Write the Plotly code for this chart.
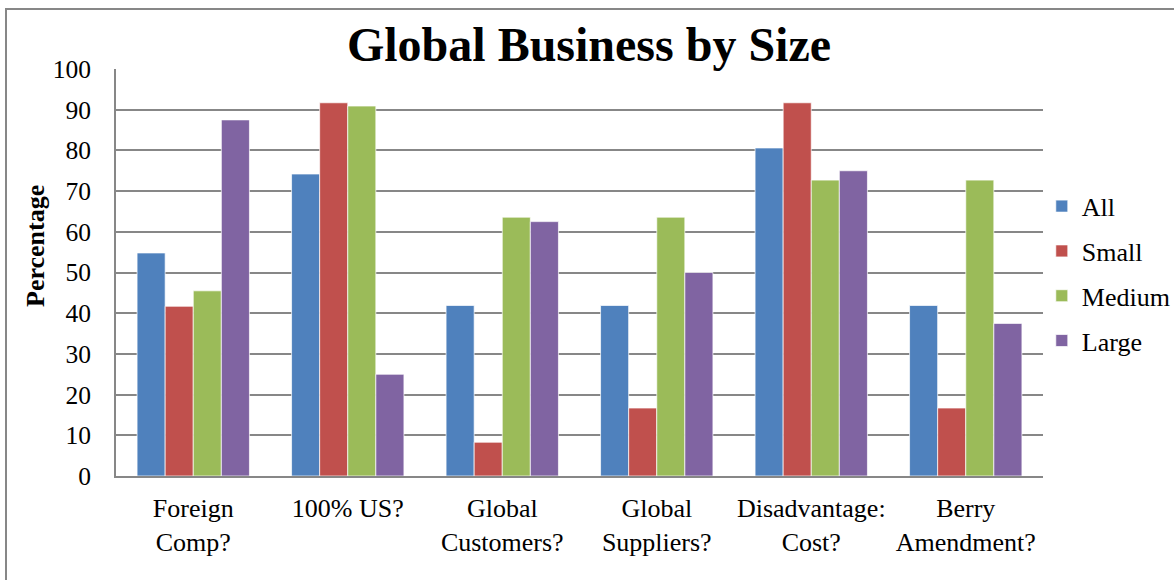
import plotly.graph_objects as go

# Survey questions on the category axis (two-line labels)
categories = [
    "Foreign<br>Comp?",
    "100% US?",
    "Global<br>Customers?",
    "Global<br>Suppliers?",
    "Disadvantage:<br>Cost?",
    "Berry<br>Amendment?",
]

# Percentage answering yes, by company size
all_sizes = [54.8, 74.2, 41.9, 41.9, 80.6, 41.9]
small = [41.7, 91.7, 8.3, 16.7, 91.7, 16.7]
medium = [45.5, 90.9, 63.6, 63.6, 72.7, 72.7]
large = [87.5, 25.0, 62.5, 50.0, 75.0, 37.5]

series_names = ["All", "Small", "Medium", "Large"]
series_values = [all_sizes, small, medium, large]
series_colors = ["#4F81BD", "#C0504D", "#9BBB59", "#8064A2"]

y_ticks = list(range(0, 101, 10))

FONT = "Liberation Serif, Times New Roman, serif"
GRID = "#878787"

fig = go.Figure()
for name, vals, color in zip(series_names, series_values, series_colors):
    fig.add_trace(go.Bar(
        name=name,
        x=categories,
        y=vals,
        legendgroup=name,
        marker=dict(color=color, line=dict(color="rgba(255,255,255,0.7)", width=1)),
    ))

fig.update_layout(
    width=1174,
    height=580,
    paper_bgcolor="white",
    plot_bgcolor="white",
    barmode="group",
    bargap=0.2727,
    bargroupgap=0,
    margin=dict(l=116, r=131, t=69, b=104, autoexpand=False),
    font=dict(family=FONT, size=26, color="black"),
    title=dict(
        text="<b>Global Business by Size</b>",
        font=dict(family=FONT, size=48, color="black"),
        x=589 / 1174,
        xanchor="center",
        y=1 - 44 / 580,
        yanchor="middle",
    ),
    legend=dict(
        x=0.9987,
        xanchor="left",
        y=0.497,
        yanchor="middle",
        font=dict(family=FONT, size=26, color="black"),
        tracegroupgap=8,
        bgcolor="rgba(0,0,0,0)",
        itemwidth=30,
    ),
    showlegend=True,
)

fig.update_xaxes(
    showline=True,
    linecolor=GRID,
    linewidth=2,
    showgrid=False,
    ticks="",
    tickfont=dict(family=FONT, size=26, color="black"),
    ticklabelstandoff=8,
)

fig.update_yaxes(
    range=[0, 100],
    tickvals=y_ticks,
    showline=True,
    linecolor=GRID,
    linewidth=2,
    showgrid=True,
    gridcolor=GRID,
    gridwidth=2,
    zeroline=False,
    ticks="",
    tickfont=dict(family=FONT, size=25.5, color="black"),
    ticklabelstandoff=18,
)

# Rotated y-axis caption, placed beside the upper half of the tick labels
fig.add_annotation(
    text="<b>Percentage</b>",
    xref="paper", yref="paper",
    x=(35 - 116) / 927, y=(476 - 246) / 407,
    xanchor="center", yanchor="middle",
    textangle=-90,
    showarrow=False,
    font=dict(family=FONT, size=26, color="black"),
)

# Chart-area border (left and top edges visible within the page)
fig.add_shape(
    type="rect",
    xref="paper", yref="paper",
    x0=(6 - 116) / 927, x1=(1190 - 116) / 927,
    y0=(476 - 600) / 407, y1=(476 - 9) / 407,
    line=dict(color=GRID, width=2),
    fillcolor="rgba(0,0,0,0)",
    layer="below",
)

fig.write_html("out.html")
